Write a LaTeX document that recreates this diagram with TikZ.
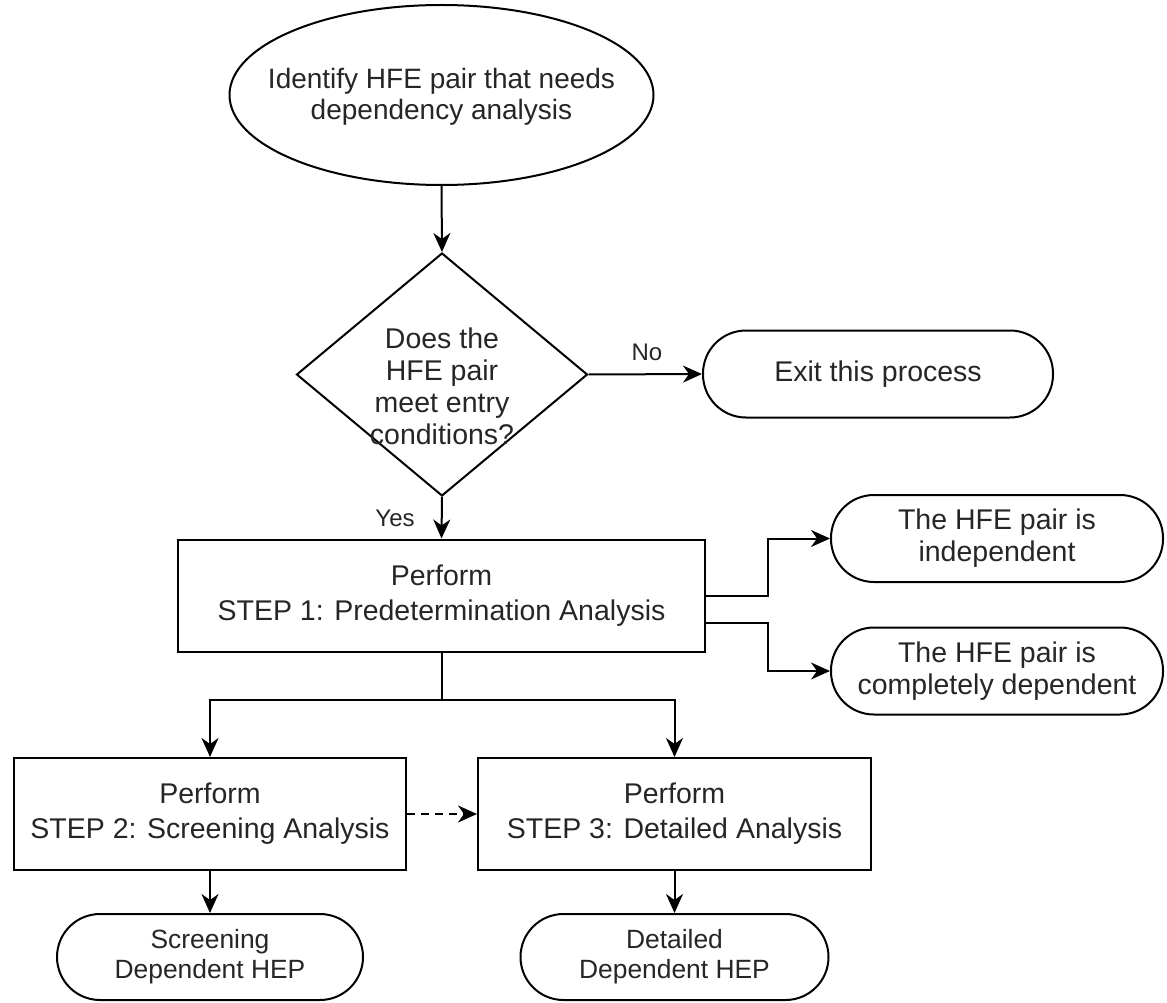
\documentclass[tikz,border=0pt]{standalone}
\usepackage{fontspec}
\setmainfont{Liberation Sans}
\usetikzlibrary{arrows.meta,shapes.geometric}
\begin{document}
\begin{tikzpicture}[x=1pt,y=-1pt,
  txt/.style={text=black!85, font=\fontsize{28.5}{32}\selectfont, align=center, inner sep=0pt},
  boxtxt/.style={txt, font=\fontsize{28.5}{35}\selectfont},
  smalltxt/.style={txt, font=\fontsize{26.4}{30}\selectfont},
  ellipsetxt/.style={txt, font=\fontsize{28}{31}\selectfont},
  lbl/.style={txt, font=\fontsize{24}{28}\selectfont},
  line/.style={line width=2pt, draw=black},
  arr/.style={line, -{Stealth[length=19pt,width=17pt,inset=6pt]}},
  proc/.style={draw=black, line width=2pt, rectangle, minimum height=112pt, minimum width=#1, boxtxt},
  term/.style={draw=black, line width=2pt, rectangle, rounded corners=43pt, minimum height=87pt, minimum width=#1, txt},
  shp/.style={draw=black, line width=2pt, inner sep=0pt}
]
\path[use as bounding box, fill=white] (0,0) rectangle (1167,1003);

% start ellipse
\node[shp, ellipse, minimum width=424pt, minimum height=180pt] (start) at (441.5,95) {};
\node[ellipsetxt] (starttxt) at (441.5,97) {Identify HFE pair that needs\\dependency analysis};

% decision
\node[shp, diamond, minimum width=291pt, minimum height=243pt] (dec) at (442,374.5) {};
\node[txt] (dectxt) at (442,386) {Does the\\HFE pair\\meet entry\\conditions?};

% exit
\node[term=350pt] (exit) at (878,374) {Exit this process};

% step 1
\node[proc=527pt] (s1) at (441.5,595.5) {Perform\\STEP 1: Predetermination Analysis};

% outcomes of step 1
\node[term=332pt] (ind) at (997,538.5) {The HFE pair is\\independent};
\node[term=332pt] (comp) at (997,671) {The HFE pair is\\completely dependent};

% step 2 / 3
\node[proc=392pt] (s2) at (210,814) {Perform\\STEP 2: Screening Analysis};
\node[proc=393pt] (s3) at (674.5,814) {Perform\\STEP 3: Detailed Analysis};

% bottom terminals
\node[term=306pt, smalltxt, minimum height=86pt, rounded corners=43pt] (scr) at (210,957) {Screening\\Dependent HEP};
\node[term=308pt, smalltxt, minimum height=86pt, rounded corners=43pt] (det) at (674.5,957) {Detailed\\Dependent HEP};

% connectors
\draw[arr] (start.south) -- (dec.north);
\draw[arr] (dec.east) -- (exit.west);
\node[lbl] (nolbl) at (647,352) {No};
\draw[arr] (dec.south) -- (s1.north);
\node[lbl] (yeslbl) at (395,518) {Yes};

\draw[arr] (s1.east) -- ++(62,0) |- (ind.west);
\coordinate (s1b) at (705,623);
\draw[arr] (s1b) -- ++(63,0) |- (comp.west);

\draw[line] (s1.south) -- (441.5,700) coordinate (split);
\draw[arr] (split) -| (s2.north);
\draw[arr] (split) -| (s3.north);

\draw[arr, dash pattern=on 8pt off 6pt] (s2.east) -- (s3.west);

\draw[arr] (s2.south) -- (scr.north);
\draw[arr] (s3.south) -- (det.north);
\end{tikzpicture}
\end{document}
